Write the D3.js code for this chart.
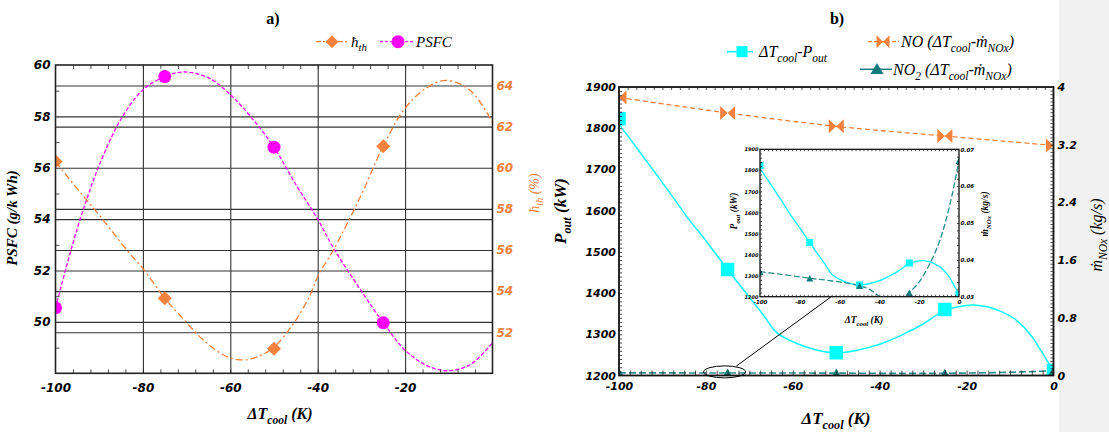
<!DOCTYPE html>
<html><head><meta charset="utf-8">
<script src="https://cdn.jsdelivr.net/npm/d3@7"></script>
<style>body{margin:0;background:#fff}svg{display:block}</style>
</head><body>
<svg id="c" width="1109" height="432"></svg>
<script>
// ---------- data ----------
const dT = [-100, -75, -50, -25, 0];
const psfcX = [-100, -75, -50, -25];
const psfc = [50.55, 59.55, 56.8, 49.97];
const etaX = [-100, -75, -50, -25];
const eta = [60.3, 53.65, 51.2, 61.05];
const psfcFitX = [-100,-97.5,-95,-92.5,-90,-85,-80,-75,-70.6,-65,-60,-55,-50,-45,-40,-36.3,-30,-25,-20,-15,-10.1,-5,0];
const psfcFit  = [50.55,52.15,53.65,54.95,56.1,57.9,59.03,59.55,59.73,59.5,58.85,57.92,56.8,55.35,54.0,52.85,51.2,49.97,48.9,48.3,48.1,48.35,49.19];
const etaFitX = [-100,-95,-90,-83.3,-80,-75,-70.8,-66.9,-63.1,-60.1,-57,-54,-50.2,-45.6,-41.8,-39.9,-36.4,-30,-25,-20,-15,-10.5,-5,0];
const etaFit  = [60.3,58.97,57.7,55.9,55.1,53.65,52.65,51.76,51.1,50.75,50.65,50.79,51.24,52.4,53.78,54.75,56.0,58.7,61.05,62.9,63.9,64.25,63.75,62.2];
const pout = [1823, 1457, 1255, 1360, 1212];
const poutFitX = [-100,-90,-84,-80,-75,-70,-67,-63.7,-60,-55,-50,-45,-40,-35,-30,-25,-20,-18.4,-15,-12,-8.8,-5,-3,-0.7,0];
const poutFit  = [1810,1668,1580,1527,1457,1390,1350,1304,1282,1263,1255,1262,1276,1298,1325,1358,1370,1371,1366,1355,1336,1295,1262,1223,1212];
const no  = [3.856, 3.64, 3.455, 3.32, 3.19];
const no2 = [0.0368, 0.0350, 0.0330, 0.0311, 0.0669];
const no2FitX = [-100,-90,-80,-75,-70,-60,-50,-45,-39.7,-35,-30,-27,-25,-20,-13.7,-10,-7,-3.3,0];
const no2Fit  = [0.0368,0.0361,0.0354,0.0350,0.0347,0.0340,0.0330,0.0320,0.0300,0.0289,0.0290,0.0300,0.0311,0.0340,0.0400,0.0447,0.0499,0.0580,0.0669];
// tick labels
const aXTicks = [-100, -80, -60, -40, -20];
const aYTicks = [50, 52, 54, 56, 58, 60];
const aY2Ticks = [52, 54, 56, 58, 60, 62, 64];
const bXTicks = [-100, -80, -60, -40, -20, 0];
const bYTicks = [1200, 1300, 1400, 1500, 1600, 1700, 1800, 1900];
const bY2Ticks = [0, 0.8, 1.6, 2.4, 3.2, 4];
const inY2Ticks = [0.03, 0.04, 0.05, 0.06, 0.07];

// ---------- styles ----------
const ORANGE = '#F4823F', MAGENTA = '#FF00FF', CYAN = '#00FFFF', TEAL = '#137B7B', TEALL = '#2A8C8C';
const TICKFONT = 'DejaVu Sans', SERIF = 'Liberation Serif';

const svg = d3.select('#c');
svg.append('rect').attr('width', 1109).attr('height', 432).attr('fill', '#fff');
svg.append('rect').attr('x', 1059).attr('width', 50).attr('height', 432).attr('fill', '#f1f1f1');
const defs = svg.append('defs');

function rich(g, x, y, parts, o) {
  const t = g.append('text').attr('x', x).attr('y', y)
    .attr('font-family', o.family || SERIF).attr('font-size', o.size)
    .attr('font-style', o.italic ? 'italic' : 'normal')
    .attr('font-weight', o.bold ? 'bold' : 'normal')
    .attr('fill', o.fill || '#000').attr('text-anchor', o.anchor || 'start');
  if (o.rotate) t.attr('transform', `rotate(-90,${x},${y})`);
  let shift = 0;
  parts.forEach(p => {
    const s = typeof p === 'string' ? { t: p } : p;
    const target = s.sub ? o.size * 0.3 : 0;
    const ts = t.append('tspan').text(s.t).attr('dy', target - shift);
    if (s.sub) ts.attr('font-size', o.size * 0.72);
    shift = target;
  });
  return t;
}
function clip(id, x0, y0, x1, y1) {
  defs.append('clipPath').attr('id', id).append('rect')
    .attr('x', x0).attr('y', y0).attr('width', x1 - x0).attr('height', y1 - y0);
  return `url(#${id})`;
}
function styleAxis(sel, size, fill) {
  sel.select('.domain').remove();
  sel.attr('font-family', TICKFONT).attr('font-size', size).attr('font-weight', 'bold').attr('font-style', 'italic');
  sel.selectAll('text').attr('fill', fill || '#000');
  sel.selectAll('line').attr('stroke', '#222');
}
function minor(g, axis, tr) {
  const a = g.append('g').attr('transform', tr).call(axis.tickFormat(''));
  a.select('.domain').remove();
  a.selectAll('line').attr('stroke', '#222').attr('stroke-width', 0.8);
}
const diamond = r => `M0,${-r}L${r},0L0,${r}L${-r},0Z`;
const tri = (w, h) => `M0,${-h / 2}L${w / 2},${h / 2}L${-w / 2},${h / 2}Z`;
const bowtie = (w, h) => `M${-w},${-h}L0,0L${-w},${h}ZM${w},${-h}L0,0L${w},${h}Z`;
const sq = s => `M${-s / 2},${-s / 2}h${s}v${s}h${-s}Z`;

// ================= chart a =================
const aL = 55.5, aR = 492.5, aT = 65, aB = 373.3;
const aX = d3.scaleLinear().domain([-100, 0]).range([aL, aR]);
const aY = d3.scaleLinear().domain([48, 60]).range([aB, aT]);
const aY2 = d3.scaleLinear().domain([50, 65]).range([aB, aT]);
const ga = svg.append('g');

// gridlines
ga.append('g').attr('transform', `translate(${aL},0)`)
  .call(d3.axisLeft(aY).tickValues([50, 52, 54, 56, 58]).tickSize(-(aR - aL)).tickFormat(''))
  .call(s => { s.select('.domain').remove(); s.selectAll('line').attr('stroke', '#333').attr('stroke-width', 1.1); });
ga.append('g').attr('transform', `translate(${aL},0)`)
  .call(d3.axisLeft(aY2).tickValues([52, 54, 56, 58, 62, 64]).tickSize(-(aR - aL)).tickFormat(''))
  .call(s => { s.select('.domain').remove(); s.selectAll('line').attr('stroke', '#333').attr('stroke-width', 1.1); });
ga.append('g').attr('transform', `translate(0,${aB})`)
  .call(d3.axisBottom(aX).tickValues([-80, -60, -40, -20]).tickSize(-(aB - aT)).tickFormat(''))
  .call(s => { s.select('.domain').remove(); s.selectAll('line').attr('stroke', '#333').attr('stroke-width', 1.1); });

const aClip = clip('ca', aL, aT, aR, aB);
const aPlot = ga.append('g').attr('clip-path', aClip);
const lineA = (ys) => d3.line().x(d => aX(d[0])).y(d => ys(d[1])).curve(d3.curveCatmullRom.alpha(0.5));
aPlot.append('path').attr('d', lineA(aY)(d3.zip(psfcFitX, psfcFit)))
  .attr('fill', 'none').attr('stroke', MAGENTA).attr('stroke-width', 1.3).attr('stroke-dasharray', '4,2');
aPlot.append('path').attr('d', lineA(aY2)(d3.zip(etaFitX, etaFit)))
  .attr('fill', 'none').attr('stroke', ORANGE).attr('stroke-width', 1.3).attr('stroke-dasharray', '7,3,2,3');
aPlot.selectAll('.pm').data(d3.zip(psfcX, psfc)).join('circle')
  .attr('cx', d => aX(d[0])).attr('cy', d => aY(d[1])).attr('r', 6.5).attr('fill', MAGENTA);
aPlot.selectAll('.em').data(d3.zip(etaX, eta)).join('path')
  .attr('d', diamond(7)).attr('transform', d => `translate(${aX(d[0])},${aY2(d[1])})`).attr('fill', ORANGE);

// frame + ticks
ga.append('rect').attr('x', aL).attr('y', aT).attr('width', aR - aL).attr('height', aB - aT)
  .attr('fill', 'none').attr('stroke', '#222').attr('stroke-width', 1.6);
minor(ga, d3.axisBottom(aX).tickValues(d3.range(-96, 0, 4)).tickSize(-4), `translate(0,${aB})`);
minor(ga, d3.axisTop(aX).tickValues(d3.range(-96, 0, 4)).tickSize(-4), `translate(0,${aT})`);
minor(ga, d3.axisLeft(aY).tickValues([49, 51, 53, 55, 57, 59]).tickSize(-4), `translate(${aL},0)`);
ga.append('g').attr('transform', `translate(0,${aB})`)
  .call(d3.axisBottom(aX).tickValues(aXTicks).tickSize(0).tickPadding(10).tickFormat(d => String(d)))
  .call(s => styleAxis(s, 12));
ga.append('g').attr('transform', `translate(${aL},0)`)
  .call(d3.axisLeft(aY).tickValues(aYTicks).tickSize(0).tickPadding(5).tickFormat(d => String(d)))
  .call(s => styleAxis(s, 12));
ga.append('g').attr('transform', `translate(${aR},0)`)
  .call(d3.axisRight(aY2).tickValues(aY2Ticks).tickSize(0).tickPadding(4).tickFormat(d => String(d)))
  .call(s => styleAxis(s, 12, ORANGE));

// titles / labels
svg.append('text').attr('x', 273).attr('y', 24).attr('text-anchor', 'middle')
  .attr('font-family', SERIF).attr('font-weight', 'bold').attr('font-size', 16).text('a)');
rich(svg, 17, 218, ['PSFC (g/k Wh)'], { size: 15, bold: true, italic: true, anchor: 'middle', rotate: true });
rich(svg, 539, 193, ['ħ', { t: 'th', sub: true }, ' (%)'], { size: 14, italic: true, anchor: 'middle', rotate: true, fill: ORANGE });
rich(svg, 280, 419, ['ΔT', { t: 'cool', sub: true }, ' (K)'], { size: 16, bold: true, italic: true, anchor: 'middle' });
// legend a
svg.append('line').attr('x1', 316).attr('x2', 348).attr('y1', 41.7).attr('y2', 41.7)
  .attr('stroke', ORANGE).attr('stroke-width', 1.3).attr('stroke-dasharray', '5,2,2,2');
svg.append('path').attr('d', diamond(6.5)).attr('transform', 'translate(332,41.7)').attr('fill', ORANGE);
rich(svg, 351, 46.5, ['ħ', { t: 'th', sub: true }], { size: 15, italic: true });
svg.append('line').attr('x1', 380).attr('x2', 414).attr('y1', 41.7).attr('y2', 41.7)
  .attr('stroke', MAGENTA).attr('stroke-width', 1.3).attr('stroke-dasharray', '3,2');
svg.append('circle').attr('cx', 398).attr('cy', 41.7).attr('r', 6.5).attr('fill', MAGENTA);
rich(svg, 416, 47, ['PSFC'], { size: 15, italic: true });

// ================= chart b =================
const bL = 619, bR = 1053.5, bT = 87, bB = 375.5;
const bX = d3.scaleLinear().domain([-100, 0]).range([bL, bR]);
const bY = d3.scaleLinear().domain([1200, 1900]).range([bB, bT]);
const bY2 = d3.scaleLinear().domain([0, 4]).range([bB, bT]);
const gb = svg.append('g');
const bClip = clip('cb', bL, bT, bR, bB);
const bPlot = gb.append('g').attr('clip-path', bClip);
const curve = d3.curveCatmullRom.alpha(0.5);
bPlot.append('path').attr('d', d3.line().x(d => bX(d[0])).y(d => bY(d[1])).curve(curve)(d3.zip(poutFitX, poutFit)))
  .attr('fill', 'none').attr('stroke', CYAN).attr('stroke-width', 1.5);
bPlot.append('path').attr('d', d3.line().x(d => bX(d[0])).y(d => bY2(d[1])).curve(d3.curveMonotoneX)(d3.zip(dT, no)))
  .attr('fill', 'none').attr('stroke', ORANGE).attr('stroke-width', 1.3).attr('stroke-dasharray', '5,3');
bPlot.append('path').attr('d', d3.line().x(d => bX(d[0])).y(d => bY2(d[1])).curve(curve)(d3.zip(no2FitX, no2Fit)))
  .attr('fill', 'none').attr('stroke', TEALL).attr('stroke-width', 1.6).attr('stroke-dasharray', '7,3');
bPlot.selectAll('.ps').data(d3.zip(dT, pout)).join('path').attr('d', sq(13.5))
  .attr('transform', d => `translate(${bX(d[0])},${bY(d[1])})`).attr('fill', CYAN);
bPlot.selectAll('.nm').data(d3.zip(dT, no)).join('path').attr('d', bowtie(7.5, 7))
  .attr('transform', d => `translate(${bX(d[0])},${bY2(d[1])})`).attr('fill', ORANGE);
bPlot.selectAll('.n2').data(d3.zip(dT, no2)).join('path').attr('d', tri(10, 9))
  .attr('transform', d => `translate(${bX(d[0])},${bY2(d[1])})`).attr('fill', TEAL);

gb.append('rect').attr('x', bL).attr('y', bT).attr('width', bR - bL).attr('height', bB - bT)
  .attr('fill', 'none').attr('stroke', '#111').attr('stroke-width', 1.8);
minor(gb, d3.axisBottom(bX).tickValues(d3.range(-97.5, 0, 2.5)).tickSize(-5), `translate(0,${bB})`);
minor(gb, d3.axisTop(bX).tickValues(d3.range(-98, 0, 2)).tickSize(-3), `translate(0,${bT})`);
minor(gb, d3.axisLeft(bY).tickValues(d3.range(1210, 1900, 10)).tickSize(-3), `translate(${bL},0)`);
minor(gb, d3.axisRight(bY2).tickValues(d3.range(0.05, 4, 0.05)).tickSize(-3), `translate(${bR},0)`);
gb.append('g').attr('transform', `translate(0,${bB})`)
  .call(d3.axisBottom(bX).tickValues(bXTicks).tickSize(0).tickPadding(7).tickFormat(d => String(d)))
  .call(s => styleAxis(s, 11));
gb.append('g').attr('transform', `translate(${bL},0)`)
  .call(d3.axisLeft(bY).tickValues(bYTicks).tickSize(0).tickPadding(3).tickFormat(d => String(d)))
  .call(s => styleAxis(s, 11));
gb.append('g').attr('transform', `translate(${bR},0)`)
  .call(d3.axisRight(bY2).tickValues(bY2Ticks).tickSize(0).tickPadding(4).tickFormat(d => String(d)))
  .call(s => styleAxis(s, 11));

// annotation ellipse + connector
gb.append('ellipse').attr('cx', bX(-75.7)).attr('cy', bY2(0.05)).attr('rx', 21).attr('ry', 6)
  .attr('fill', 'none').attr('stroke', '#000').attr('stroke-width', 1);

// ---- inset ----
const iL = 760, iR = 959, iT = 149.3, iB = 296.7;
const iX = d3.scaleLinear().domain([-100, 0]).range([iL, iR]);
const iY = d3.scaleLinear().domain([1200, 1900]).range([iB, iT]);
const iY2 = d3.scaleLinear().domain([0.03, 0.07]).range([iB, iT]);
gb.append('line').attr('x1', bX(-73)).attr('y1', bY2(0.13)).attr('x2', iX(-64.2)).attr('y2', iB)
  .attr('stroke', '#000').attr('stroke-width', 1);
const gi = gb.append('g');
gi.append('rect').attr('x', iL).attr('y', iT).attr('width', iR - iL).attr('height', iB - iT).attr('fill', '#fff');
const iPlot = gi.append('g').attr('clip-path', clip('ci', iL, iT, iR, iB));
iPlot.append('path').attr('d', d3.line().x(d => iX(d[0])).y(d => iY(d[1])).curve(curve)(d3.zip(poutFitX, poutFit)))
  .attr('fill', 'none').attr('stroke', CYAN).attr('stroke-width', 1.3);
iPlot.append('path').attr('d', d3.line().x(d => iX(d[0])).y(d => iY2(d[1])).curve(curve)(d3.zip(no2FitX, no2Fit)))
  .attr('fill', 'none').attr('stroke', TEALL).attr('stroke-width', 1.3).attr('stroke-dasharray', '6,2.5');
iPlot.selectAll('.ips').data(d3.zip(dT, pout)).join('path').attr('d', sq(7))
  .attr('transform', d => `translate(${iX(d[0])},${iY(d[1])})`).attr('fill', CYAN);
iPlot.selectAll('.in2').data(d3.zip(dT, no2)).join('path').attr('d', tri(7, 6.5))
  .attr('transform', d => `translate(${iX(d[0])},${iY2(d[1])})`).attr('fill', TEAL);
gi.append('rect').attr('x', iL).attr('y', iT).attr('width', iR - iL).attr('height', iB - iT)
  .attr('fill', 'none').attr('stroke', '#111').attr('stroke-width', 1.3);
minor(gi, d3.axisBottom(iX).tickValues(d3.range(-98, 0, 2)).tickSize(-2), `translate(0,${iB})`);
minor(gi, d3.axisTop(iX).tickValues(d3.range(-98, 0, 2)).tickSize(-2), `translate(0,${iT})`);
minor(gi, d3.axisLeft(iY).tickValues(d3.range(1220, 1900, 20)).tickSize(-2), `translate(${iL},0)`);
minor(gi, d3.axisRight(iY2).tickValues(d3.range(0.032, 0.07, 0.002)).tickSize(-2), `translate(${iR},0)`);
gi.append('g').attr('transform', `translate(0,${iB})`)
  .call(d3.axisBottom(iX).tickValues(bXTicks).tickSize(0).tickPadding(3).tickFormat(d => String(d)))
  .call(s => styleAxis(s, 5.5));
gi.append('g').attr('transform', `translate(${iL},0)`)
  .call(d3.axisLeft(iY).tickValues(bYTicks).tickSize(0).tickPadding(1.5).tickFormat(d => String(d)))
  .call(s => styleAxis(s, 5));
gi.append('g').attr('transform', `translate(${iR},0)`)
  .call(d3.axisRight(iY2).tickValues(inY2Ticks).tickSize(0).tickPadding(1.5).tickFormat(d => String(d)))
  .call(s => styleAxis(s, 5.5));
rich(svg, 864, 323, ['ΔT', { t: 'cool', sub: true }, ' (K)'], { size: 9.5, bold: true, italic: true, anchor: 'middle' });
rich(svg, 737, 211, ['P', { t: 'out', sub: true }, ' (kW)'], { size: 9.5, bold: true, italic: true, anchor: 'middle', rotate: true });
rich(svg, 988, 214, ['ṁ', { t: 'NOx', sub: true }, ' (kg/s)'], { size: 9.5, bold: true, italic: true, anchor: 'middle', rotate: true });

// titles / labels b
svg.append('text').attr('x', 837).attr('y', 24).attr('text-anchor', 'middle')
  .attr('font-family', SERIF).attr('font-weight', 'bold').attr('font-size', 16).text('b)');
rich(svg, 566, 211, ['P', { t: 'out', sub: true }, ' (kW)'], { size: 17, bold: true, italic: true, anchor: 'middle', rotate: true });
rich(svg, 1102, 235, ['ṁ', { t: 'NOx', sub: true }, ' (kg/s)'], { size: 16, italic: true, anchor: 'middle', rotate: true });
rich(svg, 836, 424, ['ΔT', { t: 'cool', sub: true }, ' (K)'], { size: 17, bold: true, italic: true, anchor: 'middle' });

// legend b
svg.append('line').attr('x1', 727).attr('x2', 753).attr('y1', 51.7).attr('y2', 51.7).attr('stroke', CYAN).attr('stroke-width', 1.5);
svg.append('path').attr('d', sq(11)).attr('transform', 'translate(742,51.7)').attr('fill', CYAN);
rich(svg, 759, 57, ['ΔT', { t: 'cool', sub: true }, '-P', { t: 'out', sub: true }], { size: 16, italic: true });
svg.append('line').attr('x1', 868).attr('x2', 899).attr('y1', 41.7).attr('y2', 41.7)
  .attr('stroke', ORANGE).attr('stroke-width', 1.3).attr('stroke-dasharray', '4,2');
svg.append('path').attr('d', bowtie(6.5, 6.5)).attr('transform', 'translate(883,41.7)').attr('fill', ORANGE);
rich(svg, 901, 47, ['NO (ΔT', { t: 'cool', sub: true }, '-ṁ', { t: 'NOx', sub: true }, ')'], { size: 16, italic: true });
svg.append('line').attr('x1', 860).attr('x2', 892).attr('y1', 69.3).attr('y2', 69.3).attr('stroke', TEAL).attr('stroke-width', 1.5);
svg.append('path').attr('d', tri(13, 11)).attr('transform', 'translate(877,68.5)').attr('fill', TEAL);
rich(svg, 893, 75, ['NO', { t: '2', sub: true }, ' (ΔT', { t: 'cool', sub: true }, '-ṁ', { t: 'NOx', sub: true }, ')'], { size: 16, italic: true });
</script>
</body></html>
